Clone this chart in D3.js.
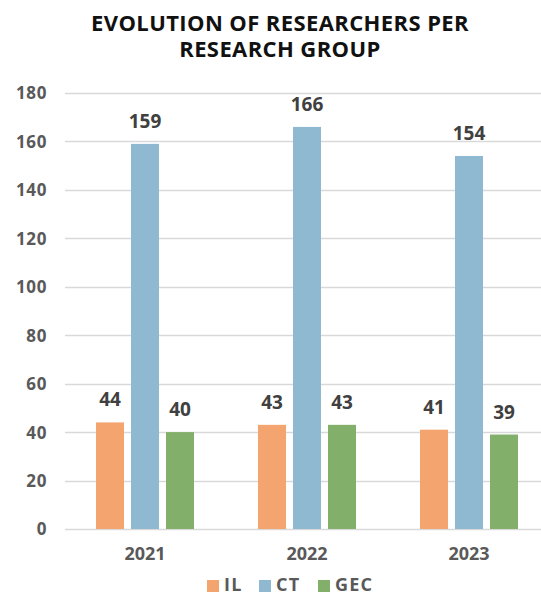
<!DOCTYPE html>
<html><head><meta charset="utf-8">
<script src="https://cdn.jsdelivr.net/npm/d3@7"></script>
<style>body{margin:0;background:#fff}svg{display:block}text{font-family:"Open Sans",sans-serif;font-weight:700}</style>
</head><body><div id="chart"></div>
<script>
const years = ["2021","2022","2023"];
const seriesNames = ["IL","CT","GEC"];
const IL = [44,43,41];
const CT = [159,166,154];
const GEC = [40,43,39];
const colors = ["#f4a46e","#8fb9d0","#82b06a"];
const yTicks = [0,20,40,60,80,100,120,140,160,180];
const titleLines = ["EVOLUTION OF RESEARCHERS PER","RESEARCH GROUP"];

const W=541,H=595;
const svg=d3.select("#chart").append("svg").attr("width",W).attr("height",H);
const values=[IL,CT,GEC];

const title=svg.append("text").attr("text-anchor","middle")
 .attr("font-size",22).attr("font-weight",800).attr("fill","#111").attr("letter-spacing",0.4);
title.selectAll("tspan").data(titleLines).enter().append("tspan")
 .attr("x",280).attr("y",(d,i)=>31+i*26).text(d=>d);

const y=d3.scaleLinear().domain([0,180]).range([529,93]);
const x0=d3.scaleBand().domain(years).range([64,550]);
const x1=d3.scaleBand().domain(seriesNames).range([0,105]).paddingInner(0.2).paddingOuter(0.1);

const grid=svg.append("g");
grid.selectAll("line").data(yTicks).enter().append("line")
 .attr("x1",65).attr("x2",W).attr("y1",d=>Math.round(y(d))+0.5).attr("y2",d=>Math.round(y(d))+0.5)
 .attr("stroke","#d9d9d9").attr("stroke-width",1.3);

const yAxis=d3.axisLeft(y).tickValues(yTicks).tickSize(0).tickPadding(0);
const ga=svg.append("g").attr("transform","translate(47,0)").call(yAxis);
ga.select(".domain").remove();
ga.selectAll("text").attr("font-size",17).attr("font-family","Open Sans").attr("font-weight",700)
 .attr("letter-spacing",0.6).attr("fill","#595959").attr("dy","0.35em");

const xAxis=d3.axisBottom(x0).tickSize(0).tickPadding(0);
const gx=svg.append("g").attr("transform","translate(0,547)").call(xAxis);
gx.select(".domain").remove();
gx.selectAll("text").attr("font-size",18).attr("font-family","Open Sans").attr("font-weight",700).attr("fill","#595959").attr("dy","0.71em");

const groups=svg.append("g").selectAll("g").data(years).enter().append("g")
 .attr("transform",d=>`translate(${x0(d)+x0.bandwidth()/2-52.5},0)`);
groups.each(function(yr,yi){
  const g=d3.select(this);
  seriesNames.forEach((s,si)=>{
    const v=values[si][yi];
    g.append("rect").attr("x",x1(s)).attr("width",x1.bandwidth())
     .attr("y",y(v)).attr("height",y(0)-y(v)).attr("fill",colors[si]);
    g.append("text").attr("x",x1(s)+x1.bandwidth()/2).attr("y",y(v)-16)
     .attr("text-anchor","middle").attr("font-size",19).attr("fill","#404040").text(v);
  });
});

const legendX=[207,259,318];
const lg=svg.append("g");
seriesNames.forEach((s,i)=>{
  lg.append("rect").attr("x",legendX[i]).attr("y",580).attr("width",12).attr("height",12).attr("fill",colors[i]);
  lg.append("text").attr("x",legendX[i]+17).attr("y",591).attr("font-size",18).attr("letter-spacing",1.2)
   .attr("fill","#595959").text(s);
});
</script></body></html>
